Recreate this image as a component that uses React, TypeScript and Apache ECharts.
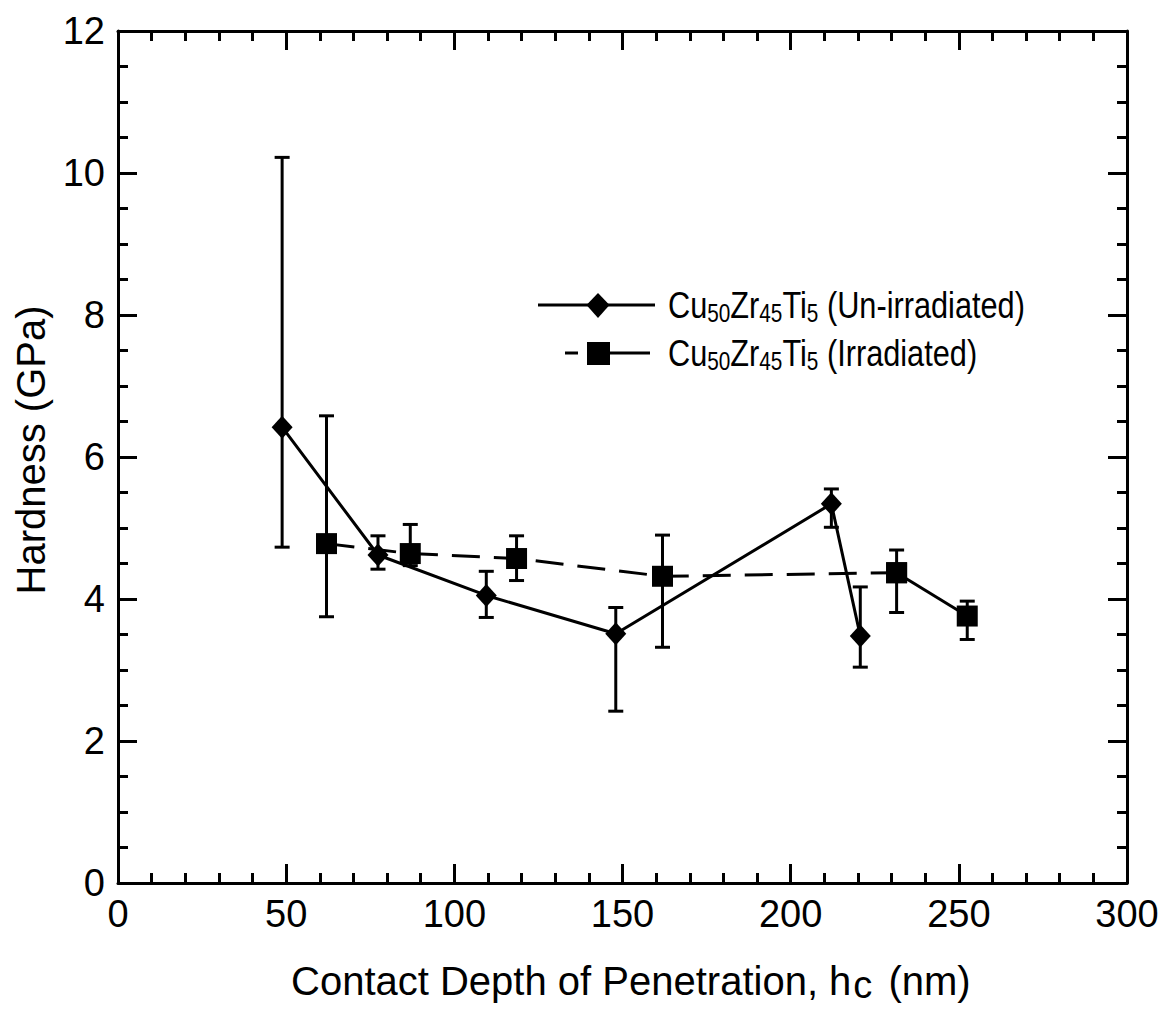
import React, { useEffect, useRef } from "react";
import * as echarts from "echarts";

// Un-irradiated (diamonds, solid line)
const unirrX = [48.8, 77.3, 109.5, 148.0, 212.1, 220.7];
const unirrY = [6.42, 4.62, 4.05, 3.51, 5.34, 3.48];
const unirrHi = [10.22, 4.89, 4.39, 3.88, 5.55, 4.17];
const unirrLo = [4.73, 4.42, 3.74, 2.42, 5.01, 3.04];

// Irradiated (squares, dashed line; last segment solid)
const irrX = [62.0, 86.9, 118.5, 161.9, 231.5, 252.5];
const irrY = [4.78, 4.64, 4.57, 4.32, 4.37, 3.76];
const irrHi = [6.58, 5.05, 4.89, 4.9, 4.69, 3.97];
const irrLo = [3.75, 4.47, 4.26, 3.32, 3.81, 3.43];

const xTicks = { min: 0, max: 300, interval: 50 };
const yTicks = { min: 0, max: 12, interval: 2 };

const FONT = '"Liberation Sans", Arial, Helvetica, sans-serif';

export default function App() {
  const ref = useRef<HTMLDivElement>(null);
  useEffect(() => {
    document.body.style.margin = "0";
    if (!ref.current) return;
    const chart = echarts.init(ref.current, undefined, { renderer: "svg" });

    const unirrPts = unirrX.map((x, i) => [x, unirrY[i]]);
    const irrPts = irrX.map((x, i) => [x, irrY[i]]);
    const unirrErr = unirrX.map((x, i) => [x, unirrLo[i], unirrHi[i]]);
    const irrErr = irrX.map((x, i) => [x, irrLo[i], irrHi[i]]);

    const errRender = (params: any, api: any) => {
      const x = api.value(0);
      const lo = api.coord([x, api.value(1)]);
      const hi = api.coord([x, api.value(2)]);
      const hw = 7.5;
      const st = { stroke: "#000", lineWidth: 3 };
      return {
        type: "group",
        children: [
          { type: "line", shape: { x1: lo[0], y1: lo[1], x2: hi[0], y2: hi[1] }, style: st },
          { type: "line", shape: { x1: lo[0] - hw, y1: lo[1], x2: lo[0] + hw, y2: lo[1] }, style: st },
          { type: "line", shape: { x1: hi[0] - hw, y1: hi[1], x2: hi[0] + hw, y2: hi[1] }, style: st },
        ],
      };
    };

    const axisCommon = {
      axisLine: { show: true, onZero: false, lineStyle: { color: "#000", width: 3 } },
      axisTick: { show: true, inside: true, length: 19, lineStyle: { color: "#000", width: 3 } },
      splitLine: { show: false },
    };

    const legendRich = {
      s: { fontSize: 25, fontFamily: FONT, fill: "#000", lineHeight: 33, verticalAlign: "bottom" },
    };
    const legendText = (label: string) => "Cu{s|50}Zr{s|45}Ti{s|5} " + label;

    const option: any = {
      animation: false,
      backgroundColor: "#fff",
      grid: { left: 118, right: 42, top: 31, bottom: 132, containLabel: false, outerBoundsMode: "none" },
      xAxis: [
        {
          type: "value",
          position: "bottom",
          min: xTicks.min,
          max: xTicks.max,
          interval: xTicks.interval,
          ...axisCommon,
          minorTick: { show: true, splitNumber: 5, length: 10, lineStyle: { color: "#000", width: 3 } },
          axisLabel: { color: "#000", fontSize: 38, fontFamily: FONT, margin: 12 },
        },
        {
          type: "value",
          position: "top",
          min: xTicks.min,
          max: xTicks.max,
          interval: xTicks.interval,
          ...axisCommon,
          minorTick: { show: true, splitNumber: 5, length: 10, lineStyle: { color: "#000", width: 3 } },
          axisLabel: { show: false },
        },
      ],
      yAxis: [
        {
          type: "value",
          position: "left",
          min: yTicks.min,
          max: yTicks.max,
          interval: yTicks.interval,
          ...axisCommon,
          minorTick: { show: true, splitNumber: 4, length: 10, lineStyle: { color: "#000", width: 3 } },
          axisLabel: { color: "#000", fontSize: 38, fontFamily: FONT, margin: 13 },
        },
        {
          type: "value",
          position: "right",
          min: yTicks.min,
          max: yTicks.max,
          interval: yTicks.interval,
          ...axisCommon,
          minorTick: { show: true, splitNumber: 4, length: 10, lineStyle: { color: "#000", width: 3 } },
          axisLabel: { show: false },
        },
      ],
      graphic: [
        {
          type: "text",
          x: 31,
          y: 450,
          rotation: Math.PI / 2,
          style: {
            text: "Hardness (GPa)",
            fontSize: 40,
            fontFamily: FONT,
            fill: "#000",
            align: "center",
            verticalAlign: "middle",
          },
        },
        {
          type: "text",
          x: 291,
          y: 981,
          style: {
            text: "Contact Depth of Penetration, h{c|c} (nm)",
            fontSize: 40,
            fontFamily: FONT,
            fill: "#000",
            align: "left",
            verticalAlign: "middle",
            lineHeight: 46,
            rich: {
              c: { fontSize: 38, fontFamily: FONT, fill: "#000", lineHeight: 26, verticalAlign: "bottom", padding: [0, 5, 0, 2] },
            },
          },
        },
        // legend row 1
        { type: "line", shape: { x1: 538, y1: 305, x2: 655, y2: 305 }, style: { stroke: "#000", lineWidth: 3 } },
        {
          type: "polygon",
          shape: { points: [[598, 293], [609.5, 305], [598, 318], [586.5, 305]] },
          style: { fill: "#000" },
        },
        {
          type: "text",
          x: 668,
          y: 305,
          scaleX: 0.83,
          style: {
            text: legendText("(Un-irradiated)"),
            fontSize: 37,
            fontFamily: FONT,
            fill: "#000",
            verticalAlign: "middle",
            lineHeight: 42,
            rich: legendRich,
          },
        },
        // legend row 2
        { type: "line", shape: { x1: 565, y1: 353, x2: 578, y2: 353 }, style: { stroke: "#000", lineWidth: 3 } },
        { type: "line", shape: { x1: 608, y1: 353, x2: 650, y2: 353 }, style: { stroke: "#000", lineWidth: 3 } },
        { type: "rect", shape: { x: 587, y: 342, width: 23, height: 23 }, style: { fill: "#000" } },
        {
          type: "text",
          x: 668,
          y: 353,
          scaleX: 0.83,
          style: {
            text: legendText("(Irradiated)"),
            fontSize: 37,
            fontFamily: FONT,
            fill: "#000",
            verticalAlign: "middle",
            lineHeight: 42,
            rich: legendRich,
          },
        },
      ],
      series: [
        {
          name: "Un-irradiated error",
          type: "custom",
          xAxisIndex: 0,
          yAxisIndex: 0,
          data: unirrErr,
          encode: { x: 0, y: [1, 2] },
          renderItem: errRender,
          silent: true,
          z: 1,
        },
        {
          name: "Irradiated error",
          type: "custom",
          xAxisIndex: 0,
          yAxisIndex: 0,
          data: irrErr,
          encode: { x: 0, y: [1, 2] },
          renderItem: errRender,
          silent: true,
          z: 1,
        },
        {
          name: "Cu50Zr45Ti5 (Un-irradiated)",
          type: "line",
          xAxisIndex: 0,
          yAxisIndex: 0,
          data: unirrPts,
          symbol: "diamond",
          symbolSize: [21, 23],
          itemStyle: { color: "#000" },
          lineStyle: { color: "#000", width: 3 },
          z: 3,
        },
        {
          name: "Cu50Zr45Ti5 (Irradiated)",
          type: "line",
          xAxisIndex: 0,
          yAxisIndex: 0,
          data: irrPts.slice(0, 5),
          symbol: "rect",
          symbolSize: 21,
          itemStyle: { color: "#000" },
          lineStyle: { color: "#000", width: 3, type: [28, 14] },
          z: 3,
        },
        {
          name: "Cu50Zr45Ti5 (Irradiated) tail",
          type: "line",
          xAxisIndex: 0,
          yAxisIndex: 0,
          data: irrPts.slice(4),
          symbol: "rect",
          symbolSize: 21,
          itemStyle: { color: "#000" },
          lineStyle: { color: "#000", width: 3 },
          z: 3,
        },
      ],
    };
    chart.setOption(option);
    return () => chart.dispose();
  }, []);
  return <div ref={ref} style={{ width: 1169, height: 1015 }} />;
}
